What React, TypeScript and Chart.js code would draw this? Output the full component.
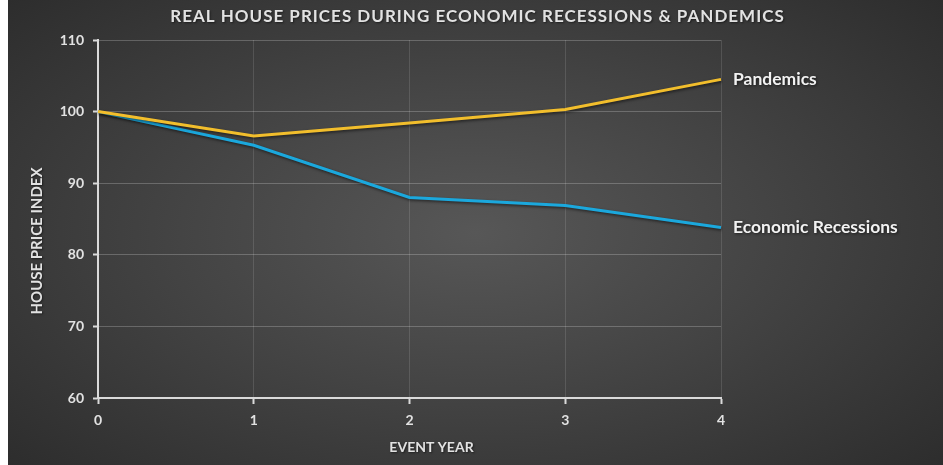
import { useEffect, useRef } from "react";
import { Chart, registerables } from "chart.js";

Chart.register(...registerables);

const eventYears = ["0", "1", "2", "3", "4"];
const pandemics = [100, 96.6, 98.4, 100.3, 104.5];
const recessions = [100, 95.3, 88.0, 86.9, 83.8];
const seriesNames = ["Pandemics", "Economic Recessions"];
const seriesColors = ["#F2BE2C", "#1BA8DD"];
const titleText = "REAL HOUSE PRICES DURING ECONOMIC RECESSIONS & PANDEMICS";
const yTitle = "HOUSE PRICE INDEX";
const xTitle = "EVENT YEAR";
const yMin = 60;
const yMax = 110;
const yStep = 10;

const FONT = "Lato, 'Open Sans', sans-serif";
const TEXT_COLOR = "#E2E2E2";

const shadowPlugin = {
  id: "lineShadow",
  beforeDatasetDraw(chart: any) {
    const ctx = chart.ctx;
    ctx.save();
    ctx.shadowColor = "rgba(0,0,0,0.55)";
    ctx.shadowBlur = 3;
    ctx.shadowOffsetX = 1;
    ctx.shadowOffsetY = 1.5;
  },
  afterDatasetDraw(chart: any) {
    chart.ctx.restore();
  },
};

const endLabelPlugin = {
  id: "endLabels",
  afterDatasetsDraw(chart: any) {
    const ctx = chart.ctx;
    ctx.save();
    ctx.font = `bold 17.5px ${FONT}`;
    ctx.fillStyle = "#F2F2F2";
    ctx.textAlign = "left";
    ctx.textBaseline = "middle";
    ctx.shadowColor = "rgba(0,0,0,0.6)";
    ctx.shadowBlur = 3;
    ctx.shadowOffsetX = 1;
    ctx.shadowOffsetY = 1;
    chart.data.datasets.forEach((ds: any, i: number) => {
      const meta = chart.getDatasetMeta(i);
      const pt = meta.data[meta.data.length - 1];
      if (!pt) return;
      ctx.fillText(ds.label, pt.x + 12, pt.y);
    });
    ctx.restore();
  },
};

const titlesPlugin = {
  id: "titles",
  afterDraw(chart: any) {
    const ctx = chart.ctx;
    const area = chart.chartArea;
    ctx.save();
    ctx.fillStyle = TEXT_COLOR;
    ctx.textBaseline = "middle";
    ctx.textAlign = "center";
    ctx.shadowColor = "rgba(0,0,0,0.5)";
    ctx.shadowBlur = 2;
    ctx.shadowOffsetX = 1;
    ctx.shadowOffsetY = 1;
    // main title
    ctx.font = `bold 17px ${FONT}`;
    (ctx as any).letterSpacing = "1px";
    ctx.fillText(titleText, chart.width / 2 + 2, 17);
    (ctx as any).letterSpacing = "0px";
    // x title
    ctx.font = `bold 14px ${FONT}`;
    ctx.fillText(xTitle, (area.left + area.right) / 2 + 22, area.bottom + 49);
    // y title
    ctx.translate(29, (area.top + area.bottom) / 2 + 22);
    ctx.rotate(-Math.PI / 2);
    ctx.font = `bold 15px ${FONT}`;
    ctx.fillText(yTitle, 0, 0);
    ctx.restore();
  },
};

export default function App() {
  const ref = useRef<HTMLCanvasElement | null>(null);

  useEffect(() => {
    if (!ref.current) return;
    const chart = new Chart(ref.current, {
      type: "line",
      data: {
        labels: eventYears,
        datasets: [
          {
            label: seriesNames[0],
            data: pandemics,
            borderColor: seriesColors[0],
            borderWidth: 3,
            pointRadius: 0,
            tension: 0,
            fill: false,
          },
          {
            label: seriesNames[1],
            data: recessions,
            borderColor: seriesColors[1],
            borderWidth: 3,
            pointRadius: 0,
            tension: 0,
            fill: false,
          },
        ],
      },
      options: {
        animation: false,
        responsive: true,
        maintainAspectRatio: false,
        layout: { padding: { left: 0, right: 222, top: 40, bottom: 0 } },
        plugins: {
          legend: { display: false },
          tooltip: { enabled: false },
          title: { display: false },
        },
        scales: {
          x: {
            type: "category",
            offset: false,
            afterFit(scale: any) {
              scale.height = 67;
            },
            border: { display: true, color: "#DADADA", width: 2 },
            grid: {
              display: true,
              color: "rgba(255,255,255,0.12)",
              lineWidth: 1,
              drawTicks: true,
              tickLength: 6,
              tickColor: "#DADADA",
              tickWidth: 2,
            },
            ticks: {
              color: TEXT_COLOR,
              font: { family: FONT, size: 14, weight: "bold" },
              padding: 8,
              maxRotation: 0,
            },
          },
          y: {
            min: yMin,
            max: yMax,
            afterFit(scale: any) {
              scale.width = 90;
            },
            border: { display: true, color: "#DADADA", width: 2 },
            grid: {
              display: true,
              color: "rgba(255,255,255,0.22)",
              lineWidth: 1,
              drawTicks: true,
              tickLength: 5,
              tickColor: "#DADADA",
              tickWidth: 2,
            },
            ticks: {
              stepSize: yStep,
              color: TEXT_COLOR,
              font: { family: FONT, size: 14, weight: "bold" },
              padding: 9,
            },
          },
        },
      },
      plugins: [shadowPlugin, endLabelPlugin, titlesPlugin],
    } as any);
    return () => chart.destroy();
  }, []);

  return (
    <div
      style={{
        position: "absolute",
        left: 8,
        top: 0,
        width: 935,
        height: 465,
        background:
          "radial-gradient(ellipse 70% 75% at 50% 50%, #575757 0%, #444444 45%, #2c2c2c 100%)",
      }}
    >
      <canvas ref={ref} style={{ width: "100%", height: "100%", display: "block" }} />
    </div>
  );
}
